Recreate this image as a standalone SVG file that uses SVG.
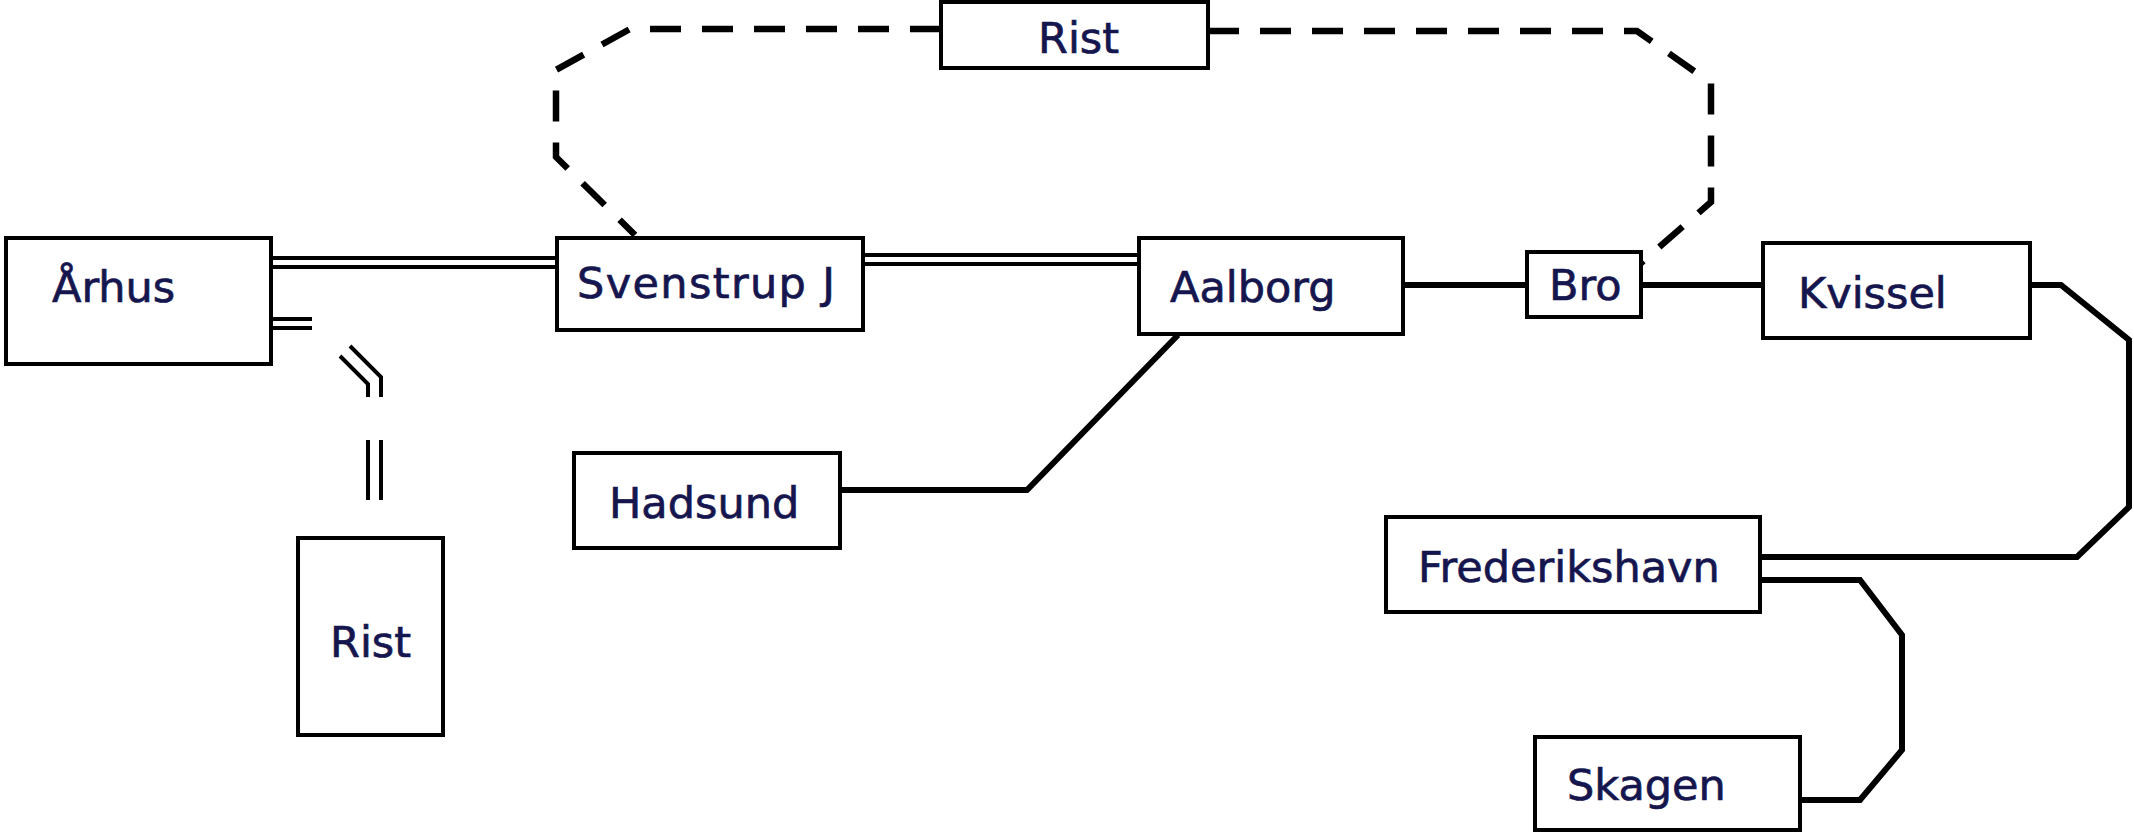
<svg xmlns="http://www.w3.org/2000/svg" width="2134" height="833" viewBox="0 0 2134 833">
<style>
.box{fill:#fff;stroke:#000;stroke-width:4}
.lbl{font-family:"DejaVu Sans","Liberation Sans",sans-serif;font-size:43px;fill:#16164f;stroke:#16164f;stroke-width:0.7}
.dbl{fill:none;stroke:#000;stroke-width:4}
.sgl{fill:none;stroke:#000;stroke-width:6;stroke-linejoin:miter}
.dash{fill:none;stroke:#000;stroke-width:6.5;stroke-dasharray:31 21}
</style>
<rect width="2134" height="833" fill="#fff"/>
<g id="connectors">
<path class="dash" d="M941,29 L630,29 L556,70 L556,157 L635,235"/>
<path class="dash" d="M1208,31 L1637,31 L1711,83 L1711,202 L1641,263"/>
<path class="dbl" d="M271,258 L557,258 M271,267 L557,267"/>
<path class="dbl" d="M863,255 L1139,255 M863,264 L1139,264"/>
<path class="dbl" d="M271,319 L312,319 M271,328 L312,328"/>
<path class="dbl" d="M340,356 L368,384 L368,397 M350,346 L381,377 L381,397"/>
<path class="dbl" d="M368,440 L368,500 M381,440 L381,500"/>
<path class="sgl" d="M840,490 L1027,490 L1178,335"/>
<path class="sgl" d="M1403,285 L1527,285"/>
<path class="sgl" d="M1641,285 L1763,285"/>
<path class="sgl" d="M2030,285 L2061,285 L2129,340 L2129,507 L2077,557 L1760,557"/>
<path class="sgl" d="M1760,580 L1860,580 L1902,635 L1902,750 L1860,800 L1800,800"/>
</g>
<g id="node-aarhus"><rect class="box" x="6" y="238" width="265" height="126"/><text class="lbl" x="52" y="302">Århus</text></g>
<g id="node-svenstrup"><rect class="box" x="557" y="238" width="306" height="92"/><text class="lbl" x="577" y="298" textLength="258">Svenstrup J</text></g>
<g id="node-aalborg"><rect class="box" x="1139" y="238" width="264" height="96"/><text class="lbl" x="1170" y="302">Aalborg</text></g>
<g id="node-bro"><rect class="box" x="1527" y="252" width="114" height="65"/><text class="lbl" x="1549" y="300">Bro</text></g>
<g id="node-kvissel"><rect class="box" x="1763" y="243" width="267" height="95"/><text class="lbl" x="1798" y="308">Kvissel</text></g>
<g id="node-rist-top"><rect class="box" x="941" y="2" width="267" height="66"/><text class="lbl" x="1038" y="53">Rist</text></g>
<g id="node-hadsund"><rect class="box" x="574" y="453" width="266" height="95"/><text class="lbl" x="609" y="518">Hadsund</text></g>
<g id="node-rist-bottom"><rect class="box" x="298" y="538" width="145" height="197"/><text class="lbl" x="330" y="657">Rist</text></g>
<g id="node-frederikshavn"><rect class="box" x="1386" y="517" width="374" height="95"/><text class="lbl" x="1418" y="582">Frederikshavn</text></g>
<g id="node-skagen"><rect class="box" x="1535" y="737" width="265" height="93"/><text class="lbl" x="1567" y="800">Skagen</text></g>
</svg>
